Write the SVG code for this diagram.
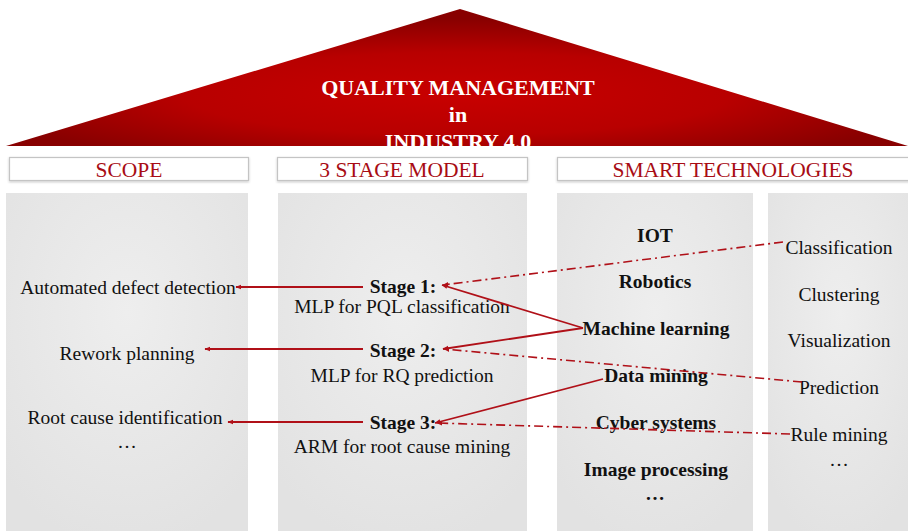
<svg xmlns="http://www.w3.org/2000/svg" width="908" height="531" viewBox="0 0 908 531">
  <defs>
    <radialGradient id="roofFill" cx="0.5" cy="0.62" r="0.55">
      <stop offset="0" stop-color="#c80000"/>
      <stop offset="0.55" stop-color="#b80000"/>
      <stop offset="1" stop-color="#880000"/>
    </radialGradient>
    <radialGradient id="panelFill" cx="0.5" cy="0.35" r="0.7">
      <stop offset="0" stop-color="#eeeeee"/>
      <stop offset="1" stop-color="#e2e2e2"/>
    </radialGradient>
    <marker id="arrow" viewBox="0 0 10 10" refX="9" refY="5" markerWidth="6" markerHeight="6" orient="auto-start-reverse" markerUnits="userSpaceOnUse">
      <path d="M0,1 L10,5 L0,9 z" fill="#b01018"/>
    </marker>
    <filter id="soft" x="-5%" y="-20%" width="110%" height="150%">
      <feDropShadow dx="0" dy="1" stdDeviation="1" flood-color="#000" flood-opacity="0.25"/>
    </filter>
  </defs>
  <style>
    text { font-family: "Liberation Serif", Tinos, "DejaVu Serif", serif; }
    .roof-text { font-weight: bold; font-size: 22px; fill: #ffffff; text-anchor: middle; }
    .head-box { fill: #ffffff; stroke: #c4c4c4; stroke-width: 1.2; }
    .head-text { font-size: 21.5px; fill: #a80c14; text-anchor: middle; }
    .panel { fill: url(#panelFill); }
    .t { font-size: 19.5px; fill: #111; text-anchor: middle; }
    .b { font-weight: bold; }
    .solid { fill: none; stroke: #b01018; stroke-width: 1.8; }
    .dashdot { fill: none; stroke: #b01018; stroke-width: 1.6; stroke-dasharray: 9 4 2 4; }
  </style>

  <rect width="908" height="531" fill="#ffffff"/>

  <!-- roof -->
  <g id="roof">
    <polygon points="460,9 6,146 908,146" fill="url(#roofFill)"/>
    <text class="roof-text" x="458" y="95">QUALITY MANAGEMENT</text>
    <text class="roof-text" x="458" y="122">in</text>
    <text class="roof-text" x="458" y="149">INDUSTRY 4.0</text>
    <rect x="0" y="147" width="908" height="8" fill="#ffffff"/>
  </g>

  <!-- column headers -->
  <g id="head-scope">
    <rect class="head-box" x="9.5" y="157.5" width="239" height="23" filter="url(#soft)"/>
    <text class="head-text" x="129" y="176.5">SCOPE</text>
  </g>
  <g id="head-model">
    <rect class="head-box" x="277.5" y="157.5" width="250" height="23" filter="url(#soft)"/>
    <text class="head-text" x="402" y="176.5">3 STAGE MODEL</text>
  </g>
  <g id="head-tech">
    <rect class="head-box" x="557.5" y="157.5" width="360" height="23" filter="url(#soft)"/>
    <text class="head-text" x="733" y="176.5">SMART TECHNOLOGIES</text>
  </g>

  <!-- columns -->
  <g id="scope">
    <rect class="panel" x="6" y="193" width="242" height="340"/>
    <text class="t" x="128" y="294">Automated defect detection</text>
    <text class="t" x="127" y="360">Rework planning</text>
    <text class="t" x="125" y="424">Root cause identification</text>
    <text class="t" x="127" y="448">…</text>
  </g>

  <g id="model">
    <rect class="panel" x="278" y="193" width="249" height="340"/>
    <text class="t b" x="403" y="293">Stage 1:</text>
    <text class="t" x="402" y="313">MLP for PQL classification</text>
    <text class="t b" x="403" y="357">Stage 2:</text>
    <text class="t" x="402" y="382">MLP for RQ prediction</text>
    <text class="t b" x="403" y="429">Stage 3:</text>
    <text class="t" x="402" y="453">ARM for root cause mining</text>
  </g>

  <g id="tech">
    <rect class="panel" x="557" y="193" width="196" height="340"/>
    <text class="t b" x="655" y="242">IOT</text>
    <text class="t b" x="655" y="288">Robotics</text>
    <text class="t b" x="656" y="335">Machine learning</text>
    <text class="t b" x="656" y="382">Data mining</text>
    <text class="t b" x="656" y="429">Cyber systems</text>
    <text class="t b" x="656" y="476">Image processing</text>
    <text class="t b" x="655" y="500">…</text>
  </g>

  <g id="methods">
    <rect class="panel" x="768" y="193" width="145" height="340"/>
    <text class="t" x="839" y="254">Classification</text>
    <text class="t" x="839" y="301">Clustering</text>
    <text class="t" x="839" y="347">Visualization</text>
    <text class="t" x="839" y="394">Prediction</text>
    <text class="t" x="839" y="441">Rule mining</text>
    <text class="t" x="839" y="466">…</text>
  </g>

  <!-- connectors -->
  <g id="connectors">
    <line class="solid" x1="363" y1="287" x2="236" y2="287" marker-end="url(#arrow)"/>
    <line class="solid" x1="363" y1="349" x2="205" y2="349" marker-end="url(#arrow)"/>
    <line class="solid" x1="363" y1="422" x2="228" y2="422" marker-end="url(#arrow)"/>

    <line class="solid" x1="583" y1="328" x2="442" y2="285" marker-end="url(#arrow)"/>
    <line class="solid" x1="583" y1="328" x2="443" y2="349" marker-end="url(#arrow)"/>
    <line class="solid" x1="603" y1="379" x2="435" y2="423" marker-end="url(#arrow)"/>

    <line class="dashdot" x1="783" y1="242" x2="443" y2="285" marker-end="url(#arrow)"/>
    <line class="dashdot" x1="802" y1="382" x2="444" y2="349" marker-end="url(#arrow)"/>
    <line class="dashdot" x1="790" y1="434" x2="437" y2="423" marker-end="url(#arrow)"/>
  </g>
</svg>
